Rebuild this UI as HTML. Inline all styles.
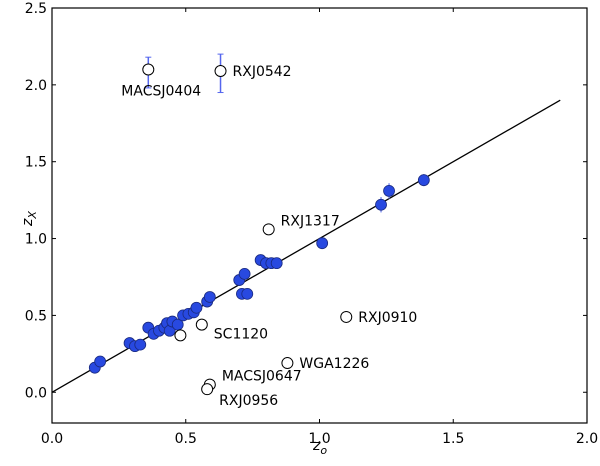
<!DOCTYPE html>
<html><head><meta charset="utf-8"><style>
body{margin:0;background:#fff}
svg text{font-family:"DejaVu Sans","Liberation Sans",sans-serif;font-size:14px}
</style></head><body>
<svg id="c" width="600" height="461"></svg>
<script>
const filledX=[0.16,0.18,0.29,0.31,0.33,0.36,0.38,0.40,0.42,0.43,0.44,0.45,0.47,0.49,0.51,0.53,0.54,0.58,0.59,0.70,0.71,0.73,0.72,0.78,0.80,0.82,0.84,1.01,1.23,1.26,1.39];
const filledY=[0.16,0.20,0.32,0.30,0.31,0.42,0.38,0.40,0.42,0.45,0.40,0.46,0.44,0.50,0.51,0.52,0.55,0.59,0.62,0.73,0.64,0.64,0.77,0.86,0.84,0.84,0.84,0.97,1.22,1.31,1.38];
const filledErr=[0,0,0,0,0,0,0,0,0,0,0,0,0,0,0,0,0,0,0,0,0,0,0,0,0,0,0,0,0.05,0.05,0.04];
const openNames=["MACSJ0404","RXJ0542","RXJ1317","RXJ0910","WGA1226","SC1120","","MACSJ0647","RXJ0956"];
const openX=[0.36,0.63,0.81,1.10,0.88,0.56,0.48,0.59,0.58];
const openY=[2.10,2.09,1.06,0.49,0.19,0.44,0.37,0.05,0.02];
const openErrLo=[0.12,0.14,0.03,0,0,0,0,0,0];
const openErrHi=[0.08,0.11,0.03,0,0,0,0,0,0];
const labelDx=[-27,12,12,12,12,12,0,12,12];
const labelDy=[26,5,-4,5,5,14,0,-4,16];
const xTicks=[0,0.5,1.0,1.5,2.0];
const yTicks=[0,0.5,1.0,1.5,2.0,2.5];
const L=52,R=587,T=8,B=423,xmin=0,xmax=2,ymin=-0.2,ymax=2.5;
const sx=v=>L+(v-xmin)/(xmax-xmin)*(R-L);
const sy=v=>B-(v-ymin)/(ymax-ymin)*(B-T);
const svg=document.getElementById('c');
function mk(t,a,txt){const e=document.createElementNS('http://www.w3.org/2000/svg',t);for(const k in a)e.setAttribute(k,a[k]);if(txt!==undefined)e.textContent=txt;svg.appendChild(e);return e;}
xTicks.forEach(v=>{const x=sx(v);
let e=mk('line',{x1:x,x2:x,y1:B,y2:B-4,stroke:'#000'});
e=mk('line',{x1:x,x2:x,y1:T,y2:T+4,stroke:'#000'});
e=mk('text',{x:x,y:B+20,'text-anchor':'middle'},v.toFixed(1));});
yTicks.forEach(v=>{const y=sy(v);
let e=mk('line',{x1:L,x2:L+4,y1:y,y2:y,stroke:'#000'});
e=mk('line',{x1:R,x2:R-4,y1:y,y2:y,stroke:'#000'});
e=mk('text',{x:L-5,y:y+5,'text-anchor':'end'},v.toFixed(1));});
let e=mk('line',{x1:sx(0),y1:sy(0),x2:sx(1.9),y2:sy(1.9),stroke:'#000','stroke-width':1.3});

filledX.forEach((v,i)=>{if(filledErr[i]>0){const g=mk('line',{x1:sx(v),x2:sx(v),y1:sy(filledY[i]-filledErr[i]),y2:sy(filledY[i]+filledErr[i]),stroke:'#6677ee','stroke-width':1.2});}
const c=mk('circle',{cx:sx(v),cy:sy(filledY[i]),r:5.5,fill:'#2849e0',stroke:'#1a2a80','stroke-width':0.8});
});
openX.forEach((v,i)=>{const x=sx(v),y=sy(openY[i]);
if(openErrLo[i]>0){const g=mk('line',{x1:x,x2:x,y1:sy(openY[i]-openErrLo[i]),y2:sy(openY[i]+openErrHi[i]),stroke:'#5566ee','stroke-width':1.5});
[sy(openY[i]-openErrLo[i]),sy(openY[i]+openErrHi[i])].forEach(yy=>{const cap=mk('line',{x1:x-3,x2:x+3,y1:yy,y2:yy,stroke:'#5566ee','stroke-width':1});});}
const c=mk('circle',{cx:x,cy:y,r:5.5,fill:'#fff',stroke:'#000','stroke-width':1});

if(openNames[i]){const t=mk('text',{x:x+labelDx[i],y:y+labelDy[i]},openNames[i]);}});
e=mk('rect',{x:L,y:T,width:R-L,height:B-T,fill:'none',stroke:'#000','stroke-width':1.2});

e=mk('text',{x:313,y:450,'font-style':'italic','font-size':'16'});
e.innerHTML='z<tspan font-size="11" dy="4">o</tspan>';
e=mk('text',{x:0,y:0,transform:'translate(32,226) rotate(-90)','font-style':'italic','font-size':'16'});
e.innerHTML='z<tspan font-size="11" dy="4">X</tspan>';
</script></body></html>
